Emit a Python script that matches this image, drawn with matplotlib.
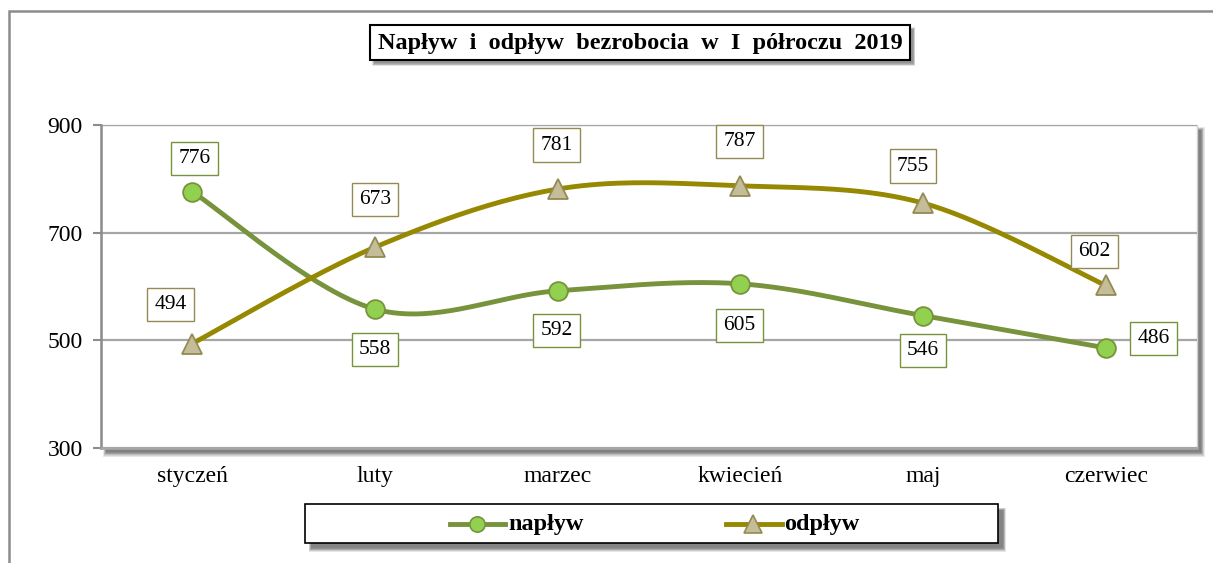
import numpy as np
import matplotlib
matplotlib.use("Agg")
import matplotlib.pyplot as plt
from matplotlib.patches import Rectangle
from matplotlib.lines import Line2D

# ---- data ----
months = ["styczeń", "luty", "marzec", "kwiecień", "maj", "czerwiec"]
naplyw = [776, 558, 592, 605, 546, 486]
odplyw = [494, 673, 781, 787, 755, 602]
yticks = [300, 500, 700, 900]
title = "Napływ  i  odpływ  bezrobocia  w  I  półroczu  2019"

W, H = 1213, 563
DPI = 100
plt.rcParams['font.family'] = ['Liberation Serif', 'DejaVu Serif']

fig = plt.figure(figsize=(W / DPI, H / DPI), dpi=DPI)
fig.patch.set_facecolor("white")


def fx(px):
    return px / W


def fy(py):
    return 1 - py / H


def frect(x0, y0, x1, y1, **kw):
    r = Rectangle((fx(x0), fy(y1)), fx(x1 - x0), (y1 - y0) / H, transform=fig.transFigure, **kw)
    fig.add_artist(r)
    return r


def soft_shadow(x0, y0, x1, y1, off=5, layers=6, alpha=0.08, zorder=1):
    for i in range(layers):
        frect(x0 + off - (layers - 1 - i) * 0.5 + 1, y0 + off - (layers - 1 - i) * 0.5 + 1,
              x1 + off + (layers - 1 - i) * 0.6, y1 + off + (layers - 1 - i) * 0.8,
              facecolor="black", edgecolor="none", alpha=alpha, zorder=zorder)


# outer chart border
frect(9, 11, 1300, 700, facecolor="none", edgecolor="#8c8c8c", linewidth=1.8, zorder=0)

# plot area
L, R, T, B = 101, 1197, 125, 448
soft_shadow(L, T, R, B, off=4, layers=7, alpha=0.09, zorder=0)
frect(L, T, R, B, facecolor="white", edgecolor="#d0d0d0", linewidth=1.0, zorder=0.5)

ax = fig.add_axes([fx(L), fy(B), fx(R - L), (B - T) / H])
ax.set_facecolor("none")
ax.set_zorder(2)

x = np.arange(len(months))


def smooth(xs, ys, n=40):
    xs = np.asarray(xs, float)
    ys = np.asarray(ys, float)
    px = np.concatenate([[xs[0]], xs, [xs[-1]]])
    py = np.concatenate([[ys[0]], ys, [ys[-1]]])
    outx, outy = [], []
    for i in range(1, len(px) - 2):
        p0x, p1x, p2x, p3x = px[i - 1:i + 3]
        p0y, p1y, p2y, p3y = py[i - 1:i + 3]
        c1x = p1x + (p2x - p0x) / 6
        c1y = p1y + (p2y - p0y) / 6
        c2x = p2x - (p3x - p1x) / 6
        c2y = p2y - (p3y - p1y) / 6
        t = np.linspace(0, 1, n)
        bx = (1 - t) ** 3 * p1x + 3 * (1 - t) ** 2 * t * c1x + 3 * (1 - t) * t ** 2 * c2x + t ** 3 * p2x
        by = (1 - t) ** 3 * p1y + 3 * (1 - t) ** 2 * t * c1y + 3 * (1 - t) * t ** 2 * c2y + t ** 3 * p2y
        outx.append(bx)
        outy.append(by)
    return np.concatenate(outx), np.concatenate(outy)


c_nap_line = "#77933C"
c_nap_face = "#92D050"
c_odp_line = "#968800"
c_odp_face = "#C4BD97"
c_odp_edge = "#948A54"

sx, sy = smooth(x, naplyw)
ax.plot(sx, sy, color=c_nap_line, lw=3.5, solid_capstyle="round", zorder=3)
ax.plot(x, naplyw, ls="none", marker="o", ms=13.5, mfc=c_nap_face, mec=c_nap_line, mew=1.3, zorder=4)
sx, sy = smooth(x, odplyw)
ax.plot(sx, sy, color=c_odp_line, lw=3.5, solid_capstyle="round", zorder=3)
ax.plot(x, odplyw, ls="none", marker="^", ms=14, mfc=c_odp_face, mec=c_odp_edge, mew=1.3, zorder=4)

# data labels (offsets in pixels)
nap_off = [(2, 33), (0, -40), (-1, -40), (-1, -42), (0, -35), (48, 9)]
odp_off = [(-22, 39), (0, 48), (-1, 44), (-1, 44), (-10, 37), (-11, 34)]
for xi, v, o in zip(x, naplyw, nap_off):
    ax.annotate(str(v), (xi, v), xytext=o, textcoords="offset pixels", ha="center", va="center",
                fontsize=15.5, zorder=5,
                bbox=dict(boxstyle="square,pad=0.33", fc="white", ec=c_nap_line, lw=1.0))
for xi, v, o in zip(x, odplyw, odp_off):
    ax.annotate(str(v), (xi, v), xytext=o, textcoords="offset pixels", ha="center", va="center",
                fontsize=15.5, zorder=5,
                bbox=dict(boxstyle="square,pad=0.33", fc="white", ec=c_odp_edge, lw=1.0))

ax.set_xlim(-0.5, len(months) - 0.5)
ax.set_ylim(300, 900)
ax.set_yticks(yticks)
ax.set_xticks(x)
ax.set_xticklabels(months)
ax.tick_params(axis="x", length=0, pad=13, labelsize=17)
ax.tick_params(axis="y", length=6, width=1.5, color="#8c8c8c", pad=7, labelsize=17)
ax.grid(axis="y", color="#a6a6a6", lw=1.6, zorder=1)
ax.set_axisbelow(True)
for s in ["top", "right"]:
    ax.spines[s].set_visible(False)
ax.spines["left"].set_color("#8c8c8c")
ax.spines["left"].set_linewidth(1.8)
ax.spines["bottom"].set_color("#a6a6a6")
ax.spines["bottom"].set_linewidth(1.8)

# title box
tx0, ty0, tx1, ty1 = 370, 25, 910, 60
soft_shadow(tx0, ty0, tx1, ty1, off=3, layers=5, alpha=0.10, zorder=1)
frect(tx0, ty0, tx1, ty1, facecolor="white", edgecolor="black", linewidth=1.5, zorder=2)
fig.text(fx((tx0 + tx1) / 2), fy((ty0 + ty1) / 2 + 1), title, ha="center", va="center",
         fontsize=17.5, fontweight="bold", zorder=3)

# legend box
lx0, ly0, lx1, ly1 = 305, 504, 998, 543
soft_shadow(lx0, ly0, lx1, ly1, off=5, layers=6, alpha=0.10, zorder=1)
frect(lx0, ly0, lx1, ly1, facecolor="white", edgecolor="black", linewidth=1.2, zorder=2)
ly = (ly0 + ly1) / 2
fig.add_artist(Line2D([fx(450), fx(505)], [fy(ly), fy(ly)], transform=fig.transFigure,
                      color=c_nap_line, lw=3.5, zorder=3))
fig.add_artist(Line2D([fx(477)], [fy(ly)], transform=fig.transFigure, ls="none", marker="o",
                      ms=11, mfc=c_nap_face, mec=c_nap_line, mew=1.2, zorder=4))
fig.text(fx(508), fy(ly + 1), "napływ", ha="left", va="center", fontsize=17.5, fontweight="bold", zorder=4)
fig.add_artist(Line2D([fx(726), fx(782)], [fy(ly), fy(ly)], transform=fig.transFigure,
                      color=c_odp_line, lw=3.5, zorder=3))
fig.add_artist(Line2D([fx(753)], [fy(ly)], transform=fig.transFigure, ls="none", marker="^",
                      ms=13, mfc=c_odp_face, mec=c_odp_edge, mew=1.2, zorder=4))
fig.text(fx(784), fy(ly + 1), "odpływ", ha="left", va="center", fontsize=17.5, fontweight="bold", zorder=4)

fig.savefig("out.png", dpi=DPI, facecolor="white")
